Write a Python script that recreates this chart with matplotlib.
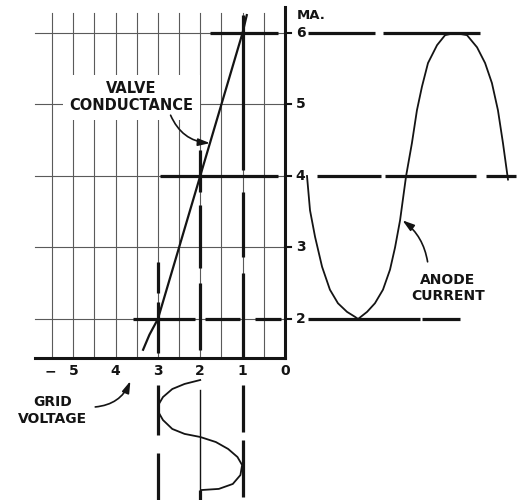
"""
Valve grid-voltage / anode-current transfer diagram (vintage textbook style).
"""

import numpy as np
import matplotlib
matplotlib.use('Agg')
import matplotlib.pyplot as plt

# --- data ----------------------------------------------------------------
GRID_TICKS = [5, 4, 3, 2, 1, 0]          # negative grid volts
MA_TICKS = [2, 3, 4, 5, 6]               # anode current, mA
GRID_LINES = [0.5, 1.0, 1.5, 2.0, 2.5, 3.0, 3.5, 4.0, 4.5, 5.0, 5.5]

# valve conductance characteristic (grid volts, mA)
COND_VOLTS = [3.35, 3.2, 3.0, 2.0, 1.0, 0.9]
COND_MA = [1.57, 1.78, 2.0, 4.0, 6.0, 6.25]

# anode current waveform (fraction of a cycle, mA)
ANODE_T = [0.000, 0.015, 0.040, 0.075, 0.114, 0.154, 0.199, 0.239, 0.254,
           0.299, 0.338, 0.378, 0.413, 0.438, 0.463, 0.493, 0.522, 0.547,
           0.572, 0.602, 0.647, 0.687, 0.736, 0.796, 0.846, 0.886, 0.920,
           0.950, 0.975, 1.000]
ANODE_MA = [4.00, 3.52, 3.15, 2.73, 2.41, 2.22, 2.10, 2.03, 2.00,
            2.10, 2.22, 2.41, 2.69, 3.00, 3.38, 4.00, 4.46, 4.92,
            5.25, 5.58, 5.83, 5.97, 6.00, 5.97, 5.80, 5.58, 5.30,
            4.92, 4.46, 3.95]

# grid voltage waveform (fraction of a cycle, grid volts)
GRID_T = [0.000, 0.036, 0.082, 0.155, 0.227, 0.290, 0.364, 0.445, 0.490,
          0.518, 0.564, 0.627, 0.700, 0.773, 0.864, 0.945, 0.990, 1.000]
GRID_V = [2.00, 2.37, 2.66, 2.88, 2.99, 2.99, 2.88, 2.66, 2.37,
          2.00, 1.63, 1.34, 1.12, 1.01, 1.05, 1.23, 1.56, 1.96]

INK = '#141414'
GRID_INK = '#5a5a5a'
FONT = dict(family='DejaVu Sans', fontweight='bold', color=INK)

fig = plt.figure(figsize=(5.21, 5.0), dpi=100)
ax = fig.add_axes([0, 0, 1, 1])
ax.set_xlim(-6.731, 5.58)      # x = -grid volts
ax.set_ylim(-0.5315, 6.4615)   # mA
ax.set_axis_off()

# anode-current time axis shares the mA scale
ax_a = ax.twiny()
ax_a.set_xlim(-1.5274, 1.0647)
ax_a.set_axis_off()

# grid-voltage time axis shares the volts scale, time running downward
ax_g = ax.twinx()
ax_g.set_ylim(1.0909, -3.4545)
ax_g.set_axis_off()

y_floor, y_top = 1.45, 6.28
x_left = -5.95

# thin grid
for v in GRID_LINES:
    ax.plot([-v, -v], [y_floor, y_top], color=GRID_INK, lw=0.8, zorder=1)
for m in MA_TICKS:
    ax.plot([x_left + 0.05, 0], [m, m], color=GRID_INK, lw=0.8, zorder=1)

# axes
ax.plot([-5.9, 0], [y_floor, y_floor], color=INK, lw=2.2, zorder=3)
ax.plot([0, 0], [y_floor, 6.36], color=INK, lw=2.2, zorder=3)
for m in MA_TICKS:
    ax.plot([0, 0.14], [m, m], color=INK, lw=1.5, zorder=3)
    ax.text(0.37, m, str(m), ha='center', va='center', fontsize=10, **FONT)
ax.text(0.28, 6.24, 'MA.', ha='left', va='center', fontsize=9.5, **FONT)

for g in GRID_TICKS:
    ax.text(-g, 1.27, str(g), ha='center', va='center', fontsize=10, **FONT)
ax.text(-5.55, 1.27, '−', ha='center', va='center', fontsize=10, **FONT)

bold = dict(color=INK, lw=2.3, solid_capstyle='butt', zorder=4)

# projections on the characteristic (mA level, volts from, volts to)
h_bold = [(6, 1.76, 0.17), (4, 2.94, 0.17),
          (2, 3.58, 2.12), (2, 1.88, 1.05), (2, 0.70, 0.10)]
for m, v0, v1 in h_bold:
    ax.plot([-v0, -v1], [m, m], **bold)

# vertical projections above the grid-voltage axis (volts, mA from, mA to)
v_bold = [(1, 6.25, 4.08), (1, 3.78, 2.87), (1, 2.64, 1.45),
          (2, 4.36, 3.78), (2, 3.59, 2.71), (2, 2.50, 1.57),
          (3, 2.80, 2.36), (3, 2.24, 1.52)]
for v, m0, m1 in v_bold:
    ax.plot([-v, -v], [m0, m1], **bold)

# vertical projections below, in grid-waveform time
g_bold = [(3, 0.045, 0.50), (3, 0.66, 1.09),
          (1, 0.045, 0.47), (1, 0.545, 1.06), (2, 1.00, 1.09)]
for v, t0, t1 in g_bold:
    ax_g.plot([-v, -v], [t0, t1], **bold)

# horizontal projections across to the anode waveform
a_bold = [(6, 0.005, 0.34), (6, 0.38, 0.86),
          (4, 0.05, 0.37), (4, 0.39, 0.84), (4, 0.89, 1.04),
          (2, 0.005, 0.56), (2, 0.57, 0.76)]
for m, t0, t1 in a_bold:
    ax_a.plot([t0, t1], [m, m], **bold)

# curves
ax.plot(-np.array(COND_VOLTS), COND_MA, color=INK, lw=1.6, zorder=5)
ax_a.plot(ANODE_T, ANODE_MA, color=INK, lw=1.3, zorder=5,
          solid_joinstyle='round')
ax_g.plot(-np.array(GRID_V), GRID_T, color=INK, lw=1.3, zorder=5,
          solid_joinstyle='round')
ax_g.plot([-2, -2], [0.09, 1.0], color=INK, lw=1.0, zorder=5)

# labels and arrows
arrow = dict(arrowstyle='-|>,head_length=0.7,head_width=0.22', color=INK,
             lw=1.2, shrinkA=0, shrinkB=0)
ax.text(-3.63, 5.10, 'VALVE\nCONDUCTANCE', ha='center', va='center',
        fontsize=10.5, linespacing=1.15, zorder=6,
        bbox=dict(boxstyle='square,pad=0.45', fc='white', ec='none'), **FONT)
ax.annotate('', xy=(-1.77, 4.46), xytext=(-2.70, 4.85),
            arrowprops=dict(connectionstyle='arc3,rad=0.3', **arrow), zorder=7)

ax_g.text(-5.48, 0.28, 'GRID\nVOLTAGE', ha='center', va='center',
          fontsize=10, linespacing=1.25, **FONT)
ax_g.annotate('', xy=(-3.65, 0.01), xytext=(-4.48, 0.245),
              arrowprops=dict(connectionstyle='arc3,rad=0.3', **arrow))

ax_a.text(0.70, 2.43, 'ANODE\nCURRENT', ha='center', va='center',
          fontsize=10, linespacing=1.2, **FONT)
ax_a.annotate('', xy=(0.475, 3.38), xytext=(0.60, 2.80),
              arrowprops=dict(connectionstyle='arc3,rad=0.2', **arrow))

fig.savefig('out.png', dpi=100, facecolor='white')
